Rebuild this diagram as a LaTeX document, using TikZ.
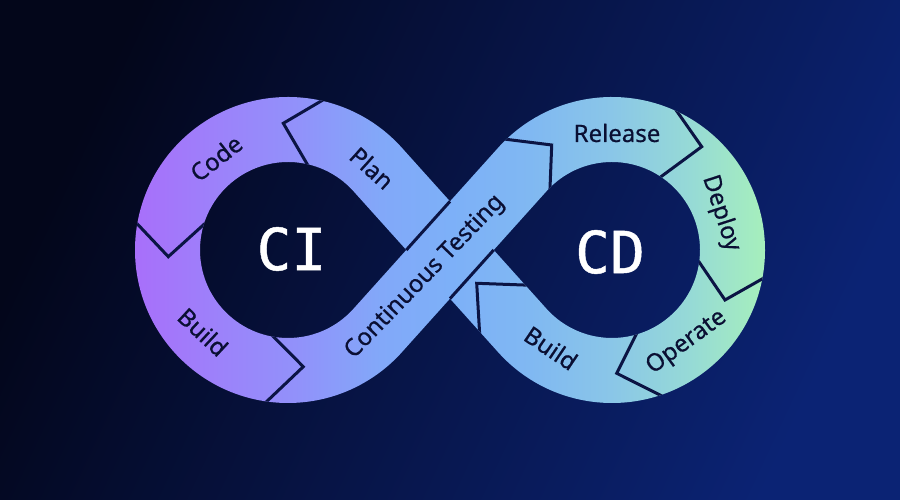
\documentclass[tikz,border=0pt]{standalone}
\usepackage{fontspec}
\setmainfont{Noto Sans}
\newfontfamily\lblfont[FakeBold=0.6]{Noto Sans}
\newfontfamily\bigfont[FakeBold=0.8]{DejaVu Sans Mono}
\usetikzlibrary{calc}

\definecolor{bgA}{HTML}{03061A}
\definecolor{bgB}{HTML}{0B2374}
\definecolor{sep}{HTML}{0B1444}
\definecolor{txt}{HTML}{0A0F33}
\definecolor{g0}{HTML}{A86FFA}
\definecolor{g1}{HTML}{9C82FA}
\definecolor{g2}{HTML}{9192FA}
\definecolor{g3}{HTML}{82A8F9}
\definecolor{g4}{HTML}{7DB0F8}
\definecolor{g5}{HTML}{80B8F2}
\definecolor{g6}{HTML}{8AC6E8}
\definecolor{g7}{HTML}{96DAD6}
\definecolor{g8}{HTML}{A6EFBC}

\pgfdeclarehorizontalshading{bandshade}{500bp}{color(0bp)=(g0); color(135bp)=(g0); color(220bp)=(g1); color(300bp)=(g2); color(380bp)=(g3); color(450bp)=(g4); color(530bp)=(g5); color(610bp)=(g6); color(690bp)=(g7); color(765bp)=(g8); color(900bp)=(g8)}

\newcommand{\sepchev}[3]{\draw[sepline] ($(#2)!1.2!(#1)$) -- (#2) -- ($(#2)!1.2!(#3)$);}

\begin{document}
\begin{tikzpicture}[x=1bp,y=1bp,
  sepline/.style={draw=sep, line width=3bp, line join=miter},
  lbl/.style={text=txt, font=\lblfont\fontsize{24bp}{28bp}\selectfont, inner sep=0pt},
  bigtxt/.style={text=white, font=\bigfont\fontsize{58bp}{60bp}\selectfont, inner sep=0pt}]
\useasboundingbox (0,0) rectangle (900,500);
\shade[top color=bgA, bottom color=bgB, shading angle=65] (0,0) rectangle (900,500);

\coordinate (C1) at (288,250);
\coordinate (C2) at (612,250);

\begin{scope}
\clip
 ([shift={(42:153bp)}]C1) arc[start angle=42, end angle=318, radius=153bp]
   -- ([shift={(318:88bp)}]C1) arc[start angle=318, end angle=42, radius=88bp] -- cycle
 ([shift={(-138:153bp)}]C2) arc[start angle=-138, end angle=138, radius=153bp]
   -- ([shift={(138:88bp)}]C2) arc[start angle=138, end angle=-138, radius=88bp] -- cycle
 ([shift={(42:88bp)}]C1) -- ([shift={(222:153bp)}]C2) -- ([shift={(222:88bp)}]C2) -- ([shift={(42:153bp)}]C1) -- cycle
 ([shift={(-42:153bp)}]C1) -- ([shift={(138:88bp)}]C2) -- ([shift={(138:153bp)}]C2) -- ([shift={(-42:88bp)}]C1) -- cycle;
\node[anchor=south west, inner sep=0pt, outer sep=0pt] (shadebox) at (0,0) {\pgfuseshading{bandshade}};

% chevron separators
\sepchev{320,398.3}{283.3,376.7}{306.7,336.7}
\sepchev{138.3,275}{168.3,243.3}{203.3,275}
\sepchev{275,161.7}{303.3,133.3}{268.3,100}
\sepchev{511.7,360}{551.7,355}{550,311.7}
\sepchev{678.3,386.7}{701.7,353.3}{663.3,325}
\sepchev{700,236.7}{725,200}{763.3,221.7}
\sepchev{635,163.3}{616.7,126.7}{660,105}
\sepchev{523.3,215}{476.7,216.7}{480,160}

% edges of the Continuous Testing band where it crosses over
\begin{scope}
\clip ([shift={(42:88bp)}]C1) -- ([shift={(222:153bp)}]C2) -- ([shift={(222:88bp)}]C2) -- ([shift={(42:153bp)}]C1) -- cycle;
\draw[sepline] ([shift={(-42:88bp)}]C1) -- ([shift={(138:153bp)}]C2);
\draw[sepline] ([shift={(-42:153bp)}]C1) -- ([shift={(138:88bp)}]C2);
\end{scope}
\end{scope}

% labels
\node[lbl, rotate=38] (code) at (216,342) {Code};
\node[lbl, rotate=-42] (plan) at (372,332) {Plan};
\node[lbl, rotate=-43] (buildci) at (203,168) {Build};
\node[lbl, rotate=46] (ct) at (425,223) {Continuous Testing};
\node[lbl] (release) at (617,367) {Release};
\node[lbl, rotate=-72] (deploy) at (721,286.7) {Deploy};
\node[lbl, rotate=36] (operate) at (686.7,157.5) {Operate};
\node[lbl, rotate=-34] (buildcd) at (551,152) {Build};
\node[bigtxt] (ci) at (291.5,251) {CI};
\node[bigtxt] (cd) at (610,248) {CD};
\end{tikzpicture}
\end{document}
